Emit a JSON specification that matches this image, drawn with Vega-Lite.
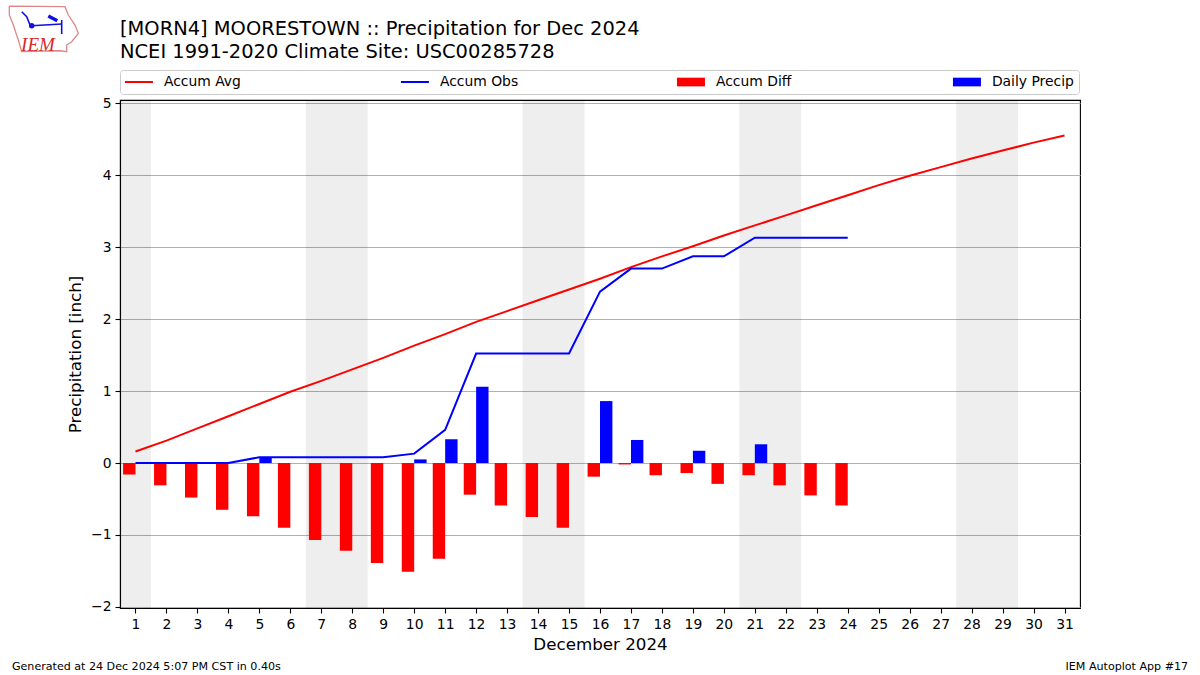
{
"$schema":"https://vega.github.io/schema/vega-lite/v6.json",
"width":960,"height":508,
"autosize":{"type":"none"},
"padding":{"left":120,"top":100,"right":120,"bottom":67},
"background":"white",
"config":{"font":"DejaVu Sans","view":{"stroke":"#000","strokeWidth":1.1},"axisX":{"grid":false}},
"title":{"text":["[MORN4] MOORESTOWN :: Precipitation for Dec 2024","NCEI 1991-2020 Climate Site: USC00285728"],"anchor":"start","frame":"group","fontSize":19.46,"fontWeight":"normal","font":"DejaVu Sans","color":"#000","lineHeight":22.5,"offset":-59},
"datasets":{
"weekends":[{"day":0.5,"end":1.5},{"day":6.5,"end":8.5},{"day":13.5,"end":15.5},{"day":20.5,"end":22.5},{"day":27.5,"end":29.5}],
"diff":[{"day":1,"series":"Accum Diff","value":-0.16},{"day":2,"series":"Accum Diff","value":-0.31},{"day":3,"series":"Accum Diff","value":-0.48},{"day":4,"series":"Accum Diff","value":-0.65},{"day":5,"series":"Accum Diff","value":-0.74},{"day":6,"series":"Accum Diff","value":-0.90},{"day":7,"series":"Accum Diff","value":-1.07},{"day":8,"series":"Accum Diff","value":-1.22},{"day":9,"series":"Accum Diff","value":-1.39},{"day":10,"series":"Accum Diff","value":-1.51},{"day":11,"series":"Accum Diff","value":-1.33},{"day":12,"series":"Accum Diff","value":-0.44},{"day":13,"series":"Accum Diff","value":-0.59},{"day":14,"series":"Accum Diff","value":-0.75},{"day":15,"series":"Accum Diff","value":-0.90},{"day":16,"series":"Accum Diff","value":-0.19},{"day":17,"series":"Accum Diff","value":-0.02},{"day":18,"series":"Accum Diff","value":-0.17},{"day":19,"series":"Accum Diff","value":-0.14},{"day":20,"series":"Accum Diff","value":-0.29},{"day":21,"series":"Accum Diff","value":-0.17},{"day":22,"series":"Accum Diff","value":-0.31},{"day":23,"series":"Accum Diff","value":-0.45},{"day":24,"series":"Accum Diff","value":-0.59}],
"precip":[{"day":5,"series":"Daily Precip","value":0.08},{"day":10,"series":"Daily Precip","value":0.05},{"day":11,"series":"Daily Precip","value":0.33},{"day":12,"series":"Daily Precip","value":1.06},{"day":16,"series":"Daily Precip","value":0.86},{"day":17,"series":"Daily Precip","value":0.32},{"day":19,"series":"Daily Precip","value":0.17},{"day":21,"series":"Daily Precip","value":0.26}],
"lines":[{"day":1,"series":"Accum Avg","value":0.16},{"day":2,"series":"Accum Avg","value":0.31},{"day":3,"series":"Accum Avg","value":0.48},{"day":4,"series":"Accum Avg","value":0.65},{"day":5,"series":"Accum Avg","value":0.82},{"day":6,"series":"Accum Avg","value":0.99},{"day":7,"series":"Accum Avg","value":1.14},{"day":8,"series":"Accum Avg","value":1.30},{"day":9,"series":"Accum Avg","value":1.46},{"day":10,"series":"Accum Avg","value":1.63},{"day":11,"series":"Accum Avg","value":1.79},{"day":12,"series":"Accum Avg","value":1.96},{"day":13,"series":"Accum Avg","value":2.11},{"day":14,"series":"Accum Avg","value":2.26},{"day":15,"series":"Accum Avg","value":2.41},{"day":16,"series":"Accum Avg","value":2.56},{"day":17,"series":"Accum Avg","value":2.72},{"day":18,"series":"Accum Avg","value":2.87},{"day":19,"series":"Accum Avg","value":3.01},{"day":20,"series":"Accum Avg","value":3.16},{"day":21,"series":"Accum Avg","value":3.30},{"day":22,"series":"Accum Avg","value":3.44},{"day":23,"series":"Accum Avg","value":3.58},{"day":24,"series":"Accum Avg","value":3.72},{"day":25,"series":"Accum Avg","value":3.86},{"day":26,"series":"Accum Avg","value":3.99},{"day":27,"series":"Accum Avg","value":4.11},{"day":28,"series":"Accum Avg","value":4.23},{"day":29,"series":"Accum Avg","value":4.34},{"day":30,"series":"Accum Avg","value":4.45},{"day":31,"series":"Accum Avg","value":4.55},
{"day":1,"series":"Accum Obs","value":0},{"day":2,"series":"Accum Obs","value":0},{"day":3,"series":"Accum Obs","value":0},{"day":4,"series":"Accum Obs","value":0},{"day":5,"series":"Accum Obs","value":0.08},{"day":6,"series":"Accum Obs","value":0.08},{"day":7,"series":"Accum Obs","value":0.08},{"day":8,"series":"Accum Obs","value":0.08},{"day":9,"series":"Accum Obs","value":0.08},{"day":10,"series":"Accum Obs","value":0.13},{"day":11,"series":"Accum Obs","value":0.46},{"day":12,"series":"Accum Obs","value":1.52},{"day":13,"series":"Accum Obs","value":1.52},{"day":14,"series":"Accum Obs","value":1.52},{"day":15,"series":"Accum Obs","value":1.52},{"day":16,"series":"Accum Obs","value":2.38},{"day":17,"series":"Accum Obs","value":2.70},{"day":18,"series":"Accum Obs","value":2.70},{"day":19,"series":"Accum Obs","value":2.87},{"day":20,"series":"Accum Obs","value":2.87},{"day":21,"series":"Accum Obs","value":3.13},{"day":22,"series":"Accum Obs","value":3.13},{"day":23,"series":"Accum Obs","value":3.13},{"day":24,"series":"Accum Obs","value":3.13}],
"footer":[{"day":-2.99,"py":-2.83,"label":"Generated at 24 Dec 2024 5:07 PM CST in 0.40s"}],
"footerRight":[{"day":34.99,"py":-2.83,"label":"IEM Autoplot App #17"}],
"logoOutline":[{"day":-3.074,"py":6.347,"o":1},{"day":-1.276,"py":6.338,"o":2},{"day":-1.169,"py":6.222,"o":3},{"day":-0.953,"py":6.083,"o":4},{"day":-0.846,"py":5.968,"o":5},{"day":-1.06,"py":5.851,"o":6},{"day":-1.221,"py":5.806,"o":7},{"day":-1.221,"py":5.713,"o":8},{"day":-1.437,"py":5.726,"o":9},{"day":-2.674,"py":5.713,"o":10},{"day":-2.784,"py":5.875,"o":11},{"day":-2.945,"py":6.083,"o":12},{"day":-3.074,"py":6.222,"o":13},{"day":-3.074,"py":6.347,"o":14}],
"logoBlue":[{"day":-2.674,"py":6.268,"g":"a","o":1},{"day":-2.513,"py":6.199,"g":"a","o":2},{"day":-2.406,"py":6.083,"g":"a","o":3},{"day":-2.351,"py":6.074,"g":"b","o":1},{"day":-1.383,"py":6.097,"g":"b","o":2},{"day":-1.383,"py":6.153,"g":"d","o":1},{"day":-1.383,"py":5.958,"g":"d","o":2}],
"logoWing":[{"day":-1.815,"py":6.208,"o":1},{"day":-1.524,"py":6.143,"o":2}],
"logoDot":[{"day":-2.351,"py":6.074}],
"logoText":[{"day":-2.148,"py":5.80,"label":"IEM"}]
},
"encoding":{"x":{"field":"day","type":"quantitative","scale":{"domain":[0.5,31.5],"nice":false,"zero":false,"padding":0},
   "axis":{"values":[1,2,3,4,5,6,7,8,9,10,11,12,13,14,15,16,17,18,19,20,21,22,23,24,25,26,27,28,29,30,31],"format":"d","grid":false,"title":"December 2024","titleFontSize":16.7,"titleFontWeight":"normal","titleColor":"#000","titlePadding":6,"labelFontSize":13.9,"labelColor":"#000","labelAngle":0,"labelFlush":false,"labelOverlap":false,"labelPadding":4,"tickColor":"#000","tickSize":5,"tickWidth":1.1,"domainColor":"#000","domainWidth":1.1}}},
"layer":[
{"data":{"name":"weekends"},"mark":{"type":"rect","fill":"#000","opacity":0.067},
 "encoding":{"x2":{"field":"end"}}},
{"data":{"name":"diff"},"mark":{"type":"bar","orient":"vertical","size":12.4,"xOffset":-6.2},
 "encoding":{
  "y":{"field":"value","type":"quantitative","stack":null,"scale":{"domain":[-2.014,5.042],"nice":false,"zero":false},
   "axis":{"values":[-2,-1,0,1,2,3,4,5],"format":"d","grid":true,"gridColor":"#b0b0b0","gridWidth":1.1,"title":"Precipitation [inch]","titleFontSize":16.7,"titleFontWeight":"normal","titleColor":"#000","titlePadding":6,"labelFontSize":13.9,"labelColor":"#000","labelPadding":4,"tickColor":"#000","tickSize":5,"tickWidth":1.1,"domainColor":"#000","domainWidth":1.1}},
  "color":{"field":"series","type":"nominal","scale":{"domain":["Accum Avg","Accum Obs","Accum Diff","Daily Precip"],"range":["#ff0000","#0000ff","#ff0000","#0000ff"]},
   "legend":{"title":null,"orient":"none","legendX":0,"legendY":-30,"columns":4,"gridAlign":"all","columnPadding":150,"padding":5,"strokeColor":"#cccccc","fillColor":"#ffffff","cornerRadius":3,"labelFontSize":13.9,"labelColor":"#000","labelOffset":25,"symbolSize":196,"rowPadding":0,
    "encode":{"symbols":{"update":{"shape":{"signal":"test(/Avg|Obs/,datum.value)?'M-1,0H3':'M-1,-.62H3V.62H-1Z'"},"fill":{"signal":"test(/Avg|Obs/,datum.value)?'transparent':(test(/Diff/,datum.value)?'#ff0000':'#0000ff')"},"stroke":{"signal":"test(/Avg/,datum.value)?'#ff0000':(test(/Obs/,datum.value)?'#0000ff':'transparent')"},"strokeWidth":{"signal":"test(/Avg|Obs/,datum.value)?2:0"},"opacity":{"value":1}}}}}}}},
{"data":{"name":"precip"},"mark":{"type":"bar","orient":"vertical","size":12.4,"xOffset":6.2},
 "encoding":{"y":{"field":"value","type":"quantitative","stack":null},"color":{"field":"series","type":"nominal"}}},
{"data":{"name":"lines"},"mark":{"type":"line","strokeWidth":2},
 "encoding":{"y":{"field":"value","type":"quantitative"},"color":{"field":"series","type":"nominal"}}},
{"data":{"name":"footer"},"mark":{"type":"text","align":"left","baseline":"middle","fontSize":11.1,"color":"#000"},
 "encoding":{"y":{"field":"py","type":"quantitative"},"text":{"field":"label"}}},
{"data":{"name":"footerRight"},"mark":{"type":"text","align":"right","baseline":"middle","fontSize":11.1,"color":"#000"},
 "encoding":{"y":{"field":"py","type":"quantitative"},"text":{"field":"label"}}},
{"data":{"name":"logoOutline"},"mark":{"type":"line","color":"#dd8888","strokeWidth":1.3},
 "encoding":{"y":{"field":"py","type":"quantitative"},"order":{"field":"o"}}},
{"data":{"name":"logoBlue"},"mark":{"type":"line","color":"#1010e0","strokeWidth":1.6},
 "encoding":{"y":{"field":"py","type":"quantitative"},"detail":{"field":"g"},"order":{"field":"o"}}},
{"data":{"name":"logoWing"},"mark":{"type":"line","color":"#1010e0","strokeWidth":3.5},
 "encoding":{"y":{"field":"py","type":"quantitative"},"order":{"field":"o"}}},
{"data":{"name":"logoDot"},"mark":{"type":"point","filled":true,"color":"#1010e0","size":30,"opacity":1},
 "encoding":{"y":{"field":"py","type":"quantitative"}}},
{"data":{"name":"logoText"},"mark":{"type":"text","font":"Liberation Serif","fontStyle":"italic","fontSize":19,"color":"#d42a2a","align":"center","baseline":"middle"},
 "encoding":{"y":{"field":"py","type":"quantitative"},"text":{"field":"label"}}}
]
}
